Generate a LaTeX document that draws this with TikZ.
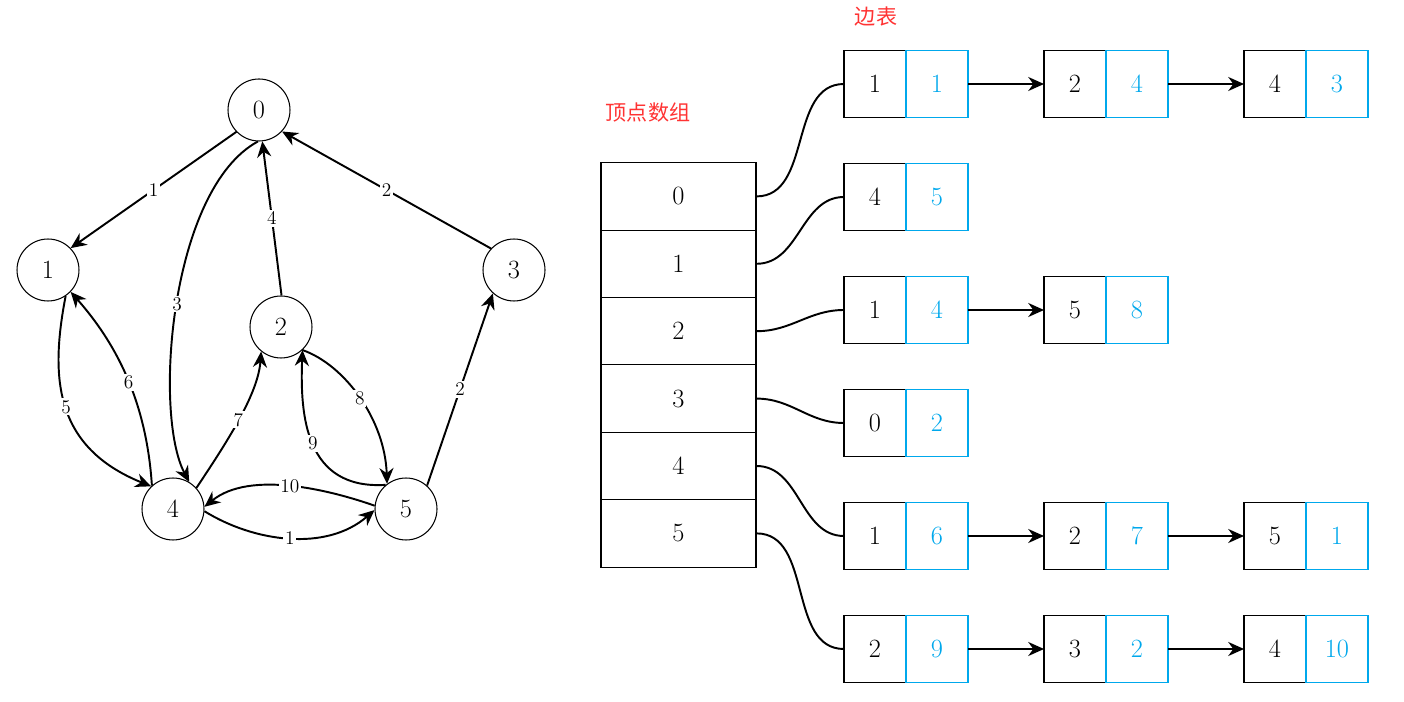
\documentclass[tikz,border=0pt]{standalone}
\usepackage{fontspec}
\newfontfamily\cjk{Noto Sans CJK SC}
\usepackage{tikz}
\usetikzlibrary{positioning, calc, arrows.meta}
\definecolor{listblue}{RGB}{0,168,236}
\definecolor{notered}{RGB}{255,51,51}

\begin{document}
\begin{tikzpicture}[x=0.02cm, y=-0.02cm, >={Stealth[length=9pt, width=8pt]},
    vtx/.style={circle, draw, line width=0.6pt, minimum size=1.24cm, inner sep=0pt, font=\fontsize{15}{18}\selectfont},
    gedge/.style={->, line width=1.1pt},
    wlabel/.style={fill=white, inner sep=1pt, font=\fontsize{11}{13}\selectfont},
    vcell/.style={draw, line width=0.6pt, minimum width=3.1cm, minimum height=1.35cm, inner sep=0pt, font=\fontsize{15}{18}\selectfont},
    keybox/.style={draw, line width=0.6pt, minimum width=1.24cm, minimum height=1.34cm, inner sep=0pt, outer sep=0pt, font=\fontsize{15}{18}\selectfont},
    wtbox/.style={keybox, draw=listblue, text=listblue},
    hook/.style={line width=1.1pt},
    note/.style={text=notered, font=\cjk\fontsize{12}{14}\selectfont}]
    \useasboundingbox (0,0) rectangle (1404,702);

    % graph
    \node[vtx] (v0) at (259,110) {0};
    \node[vtx] (v1) at (48,270) {1};
    \node[vtx] (v2) at (281,327) {2};
    \node[vtx] (v3) at (514,270) {3};
    \node[vtx] (v4) at (173,509) {4};
    \node[vtx] (v5) at (406,509) {5};

    \draw[gedge] (v0.-136) -- node[wlabel] {1} (v1.44);
    \draw[gedge] (v3.137) -- node[wlabel] {2} (v0.-43);
    \draw[gedge] (v2.89) -- node[wlabel] {4} (v0.-84);
    \draw[gedge] (v5.48) -- node[wlabel] {2} (v3.-132);
    \draw[gedge] (v0.-92) .. controls (170,189) and (153,414) .. node[wlabel] {3} (v4.59);
    \draw[gedge] (v1.-56) .. controls (50,377) and (54,447) .. node[wlabel] {5} (v4.134);
    \draw[gedge] (v4.132) .. controls (147,410) and (122,350) .. node[wlabel] {6} (v1.-44);
    \draw[gedge] (v4.42) .. controls (225,445) and (258,395) .. node[wlabel] {7} (v2.-129);
    \draw[gedge] (v2.-47) .. controls (345,365) and (385,420) .. node[wlabel] {8} (v5.127);
    \draw[gedge] (v5.130) .. controls (305,490) and (300,415) .. node[wlabel] {9} (v2.-47);
    \draw[gedge] (v5.174) .. controls (330,490) and (250,470) .. node[wlabel] {10} (v4.4);
    \draw[gedge] (v4.-4) .. controls (254,542) and (326,552) .. node[wlabel] {1} (v5.182);

    % vertex array and edge lists
    \node[note] (title0) at (648,113) {顶点数组};
    \node[note] (title1) at (876,17) {边表};

    \foreach \i in {0,...,5}
        \node[vcell] (a\i) at (678.5, 196.4+67.4*\i) {\i};

    \foreach \r/\c/\k/\w in {0/0/1/1, 0/1/2/4, 0/2/4/3, 1/0/4/5, 2/0/1/4, 2/1/5/8, 3/0/0/2,
                             4/0/1/6, 4/1/2/7, 4/2/5/1, 5/0/2/9, 5/1/3/2, 5/2/4/10} {
        \node[keybox] (k\r\c) at (875+200*\c, 84+113*\r) {\k};
        \node[wtbox, right=0pt of k\r\c] (w\r\c) {\w};
    }

    \foreach \r in {0,...,5}
        \draw[hook] (a\r.east) to[out=0, in=180] (k\r0.west);

    \foreach \r/\c/\n in {0/0/1, 0/1/2, 2/0/1, 4/0/1, 4/1/2, 5/0/1, 5/1/2}
        \draw[gedge] (w\r\c.east) -- (k\r\n.west);
\end{tikzpicture}
\end{document}
